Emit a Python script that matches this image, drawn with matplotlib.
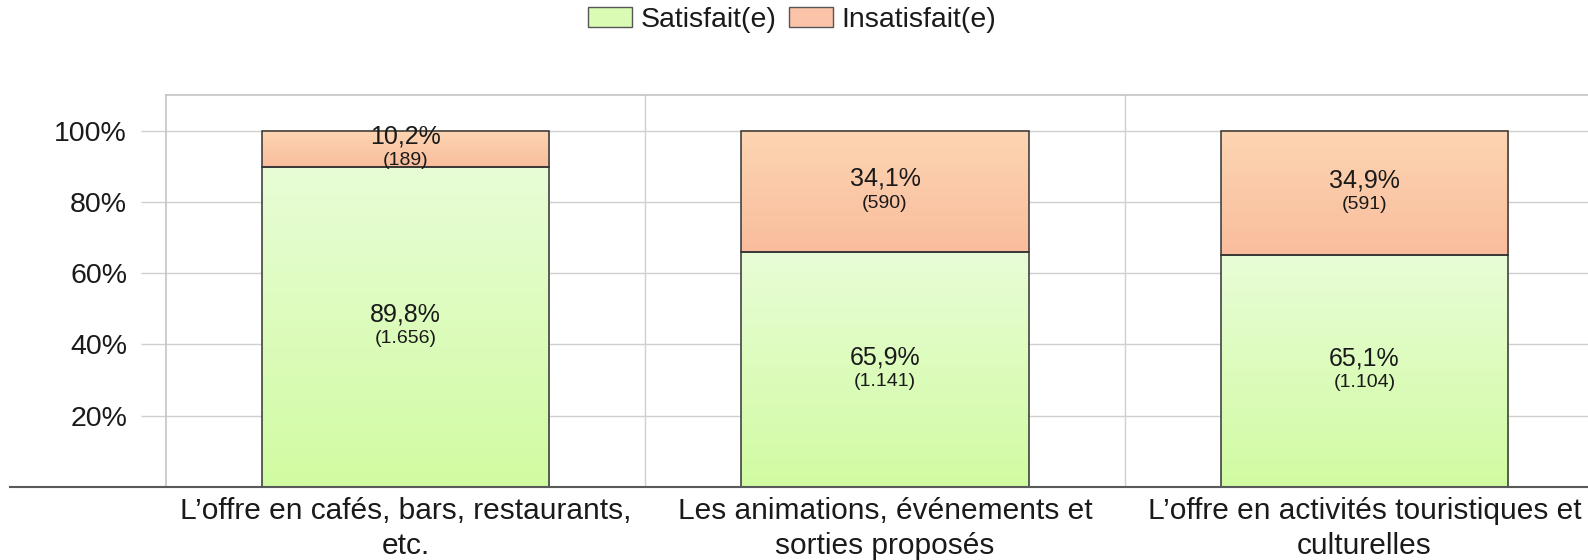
import numpy as np
import matplotlib
matplotlib.use("Agg")
import matplotlib.pyplot as plt
from matplotlib.patches import Patch
from matplotlib.lines import Line2D
from matplotlib.colors import to_rgb

categories = ["L’offre en cafés, bars, restaurants,\netc.",
              "Les animations, événements et\nsorties proposés",
              "L’offre en activités touristiques et\nculturelles"]
satisfait_pct = [89.8, 65.9, 65.1]
insatisfait_pct = [10.2, 34.1, 34.9]
satisfait_n = [1656, 1141, 1104]
insatisfait_n = [189, 590, 591]
series_names = ["Satisfait(e)", "Insatisfait(e)"]
yticks = [20, 40, 60, 80, 100]

plt.rcParams['font.family'] = ['Liberation Sans', 'DejaVu Sans']

green_top, green_bot = "#e8fdd6", "#d1fba2"
orange_top, orange_bot = "#fdd5b2", "#f9bd9d"
edge = "#333333"
txt = "#1a1a1a"


def fmt_pct(v):
    return f"{v:.1f}".replace(".", ",") + "%"


def fmt_n(n):
    return "(" + f"{n:,}".replace(",", ".") + ")"


def gradient_bar(ax, x, bottom, height, width, top_col, bot_col):
    c1 = np.array(to_rgb(top_col))
    c2 = np.array(to_rgb(bot_col))
    t = np.linspace(0, 1, 100)[:, None]
    img = (c1 * (1 - t) + c2 * t)[:, None, :]
    ax.imshow(img, extent=(x - width / 2, x + width / 2, bottom, bottom + height),
              aspect='auto', zorder=2, interpolation='bilinear')
    ax.bar(x, height, width, bottom=bottom, facecolor='none', edgecolor=edge,
           linewidth=1.1, zorder=3)


fig = plt.figure(figsize=(15.88, 5.6), dpi=100)
ax = fig.add_axes([166 / 1588, 73 / 560, 1438 / 1588, 392 / 560])

w = 0.6
for i in range(len(categories)):
    s, u = satisfait_pct[i], insatisfait_pct[i]
    gradient_bar(ax, i, 0, s, w, green_top, green_bot)
    gradient_bar(ax, i, s, u, w, orange_top, orange_bot)
    for bottom, h, n in [(0, s, satisfait_n[i]), (s, u, insatisfait_n[i])]:
        mid = bottom + h / 2
        ax.annotate(fmt_pct(h), (i, mid), xytext=(0, 9), textcoords='offset points',
                    ha='center', va='center', fontsize=18, color=txt, zorder=5)
        ax.annotate(fmt_n(n), (i, mid), xytext=(0, -8.5), textcoords='offset points',
                    ha='center', va='center', fontsize=14, color=txt, zorder=5)

ax.set_xlim(-0.5, len(categories) - 0.5)
ax.set_ylim(0, 110)
ax.set_yticks(yticks)
ax.set_yticklabels([f"{v}%" for v in yticks])
ax.set_xticks(range(len(categories)))
ax.set_xticklabels(categories, fontsize=21.5, linespacing=1.33, color=txt)

ax.yaxis.grid(True, color='#cfcfcf', linewidth=1)
for xv in np.arange(0.5, len(categories) - 0.5, 1):
    ax.axvline(xv, color='#cfcfcf', linewidth=1, zorder=0)
ax.set_axisbelow(True)

ax.tick_params(axis='y', length=18, width=1, color='#cfcfcf', pad=10,
               labelsize=20.5, labelcolor=txt)
ax.tick_params(axis='x', length=0, pad=7)
for sp in ['left', 'top', 'right']:
    ax.spines[sp].set_color('#c4c4c4')
    ax.spines[sp].set_linewidth(1.2)
ax.spines['bottom'].set_visible(False)

fig.add_artist(Line2D([10 / 1588, 1], [73 / 560, 73 / 560], color='#5a5a5a',
                      linewidth=1.5, transform=fig.transFigure))

handles = [Patch(facecolor="#d9fbb3", edgecolor="#555555", linewidth=1),
           Patch(facecolor="#fbc4a8", edgecolor="#555555", linewidth=1)]
fig.legend(handles, series_names, loc='center', bbox_to_anchor=(792 / 1588, 1 - 20 / 560),
           ncol=2, frameon=False, fontsize=20.5, handlelength=1.55, handleheight=0.65,
           handletextpad=0.3, columnspacing=0.45, labelcolor=txt)

fig.savefig("out.png", dpi=100)
